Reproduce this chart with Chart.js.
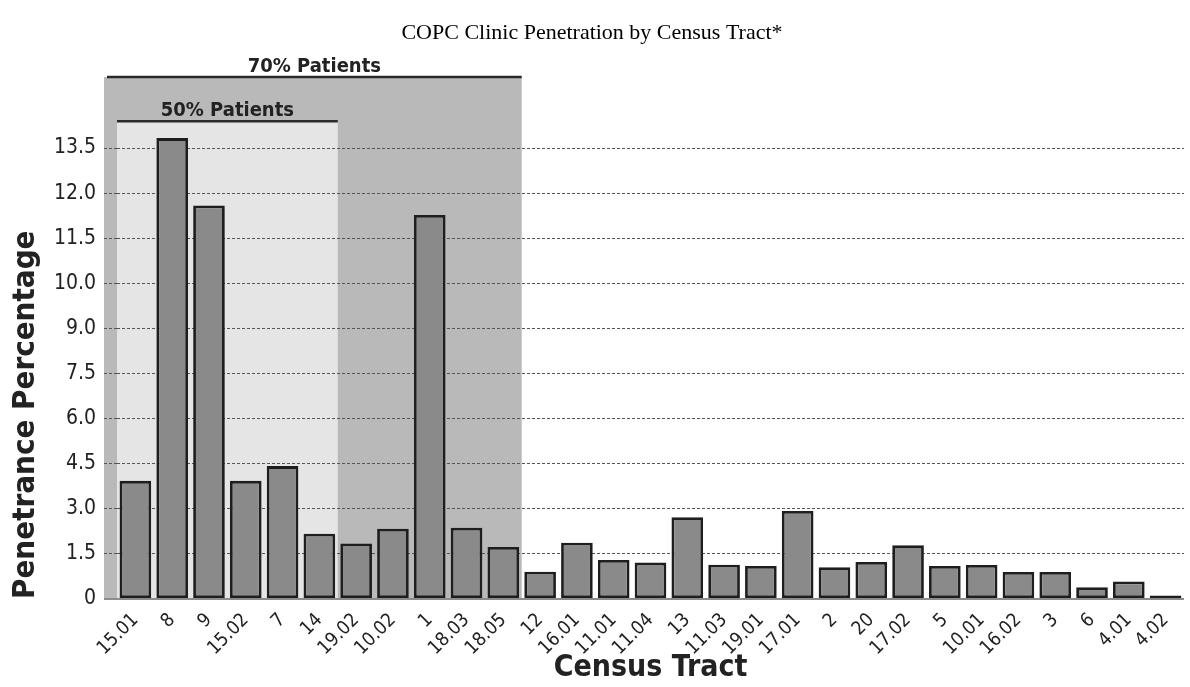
<!DOCTYPE html>
<html>
<head>
<meta charset="utf-8">
<script src="https://cdn.jsdelivr.net/npm/chart.js@4/dist/chart.umd.min.js"></script>
<style>
  html, body { margin: 0; padding: 0; background: #ffffff; }
  #wrap { width: 1190px; height: 687px; }
</style>
</head>
<body>
<div id="wrap"><canvas id="chart" width="1190" height="687"></canvas></div>
<script>
const tracts = ['15.01', '8', '9', '15.02', '7', '14', '19.02', '10.02', '1', '18.03', '18.05', '12', '16.01', '11.01', '11.04', '13', '11.03', '19.01', '17.01', '2', '20', '17.02', '5', '10.01', '16.02', '3', '6', '4.01', '4.02'];
// bar heights in grid units (1.5 per gridline, as the lower labels read)
const penetrance = [3.93, 15.33, 13.09, 3.93, 4.42, 2.17, 1.85, 2.34, 12.77, 2.37, 1.73, 0.91, 1.87, 1.30, 1.21, 2.72, 1.14, 1.10, 2.93, 1.06, 1.23, 1.79, 1.10, 1.13, 0.90, 0.90, 0.39, 0.58, 0.12];
// the y labels as printed on the original (not evenly spaced numbers)
const yTickLabels = ['0', '1.5', '3.0', '4.5', '6.0', '7.5', '9.0', '10.0', '11.5', '12.0', '13.5'];

// patient share brackets: last category index covered, label, bracket height (y units)
const brackets = [
    { label: '70% Patients', lastIndex: 10, top: 17.36, dark: true },
    { label: '50% Patients', lastIndex: 5, top: 15.89, dark: false }
];

const condensed = "'DejaVu Sans Condensed', 'Liberation Sans Narrow', 'Arial Narrow', sans-serif";
const TICK_LEN = 13;

const bracketPlugin = {
    id: 'brackets',
    beforeDraw(chart) {
        const { ctx, chartArea, scales: { x, y } } = chart;
        const pitch = x.getPixelForValue(1) - x.getPixelForValue(0);
        const base = y.getPixelForValue(0);
        ctx.save();
        brackets.forEach(b => {
            const left = b.dark ? chartArea.left - TICK_LEN : x.getPixelForValue(0) - pitch / 2;
            const right = x.getPixelForValue(b.lastIndex) + pitch / 2;
            const top = y.getPixelForValue(b.top);
            ctx.fillStyle = b.dark ? '#b9b9b9' : '#e5e5e5';
            ctx.fillRect(left, top, right - left, base - top);
        });
        ctx.restore();
    },
    afterDraw(chart) {
        const { ctx, chartArea, scales: { x, y } } = chart;
        const pitch = x.getPixelForValue(1) - x.getPixelForValue(0);
        ctx.save();
        brackets.forEach(b => {
            const left = b.dark ? chartArea.left - TICK_LEN + 3 : x.getPixelForValue(0) - pitch / 2;
            const right = x.getPixelForValue(b.lastIndex) + pitch / 2;
            const top = y.getPixelForValue(b.top);
            ctx.strokeStyle = '#2a2a2a';
            ctx.lineWidth = 2.5;
            ctx.beginPath();
            ctx.moveTo(left, top);
            ctx.lineTo(right, top);
            ctx.stroke();
            ctx.fillStyle = '#222';
            ctx.font = `bold 20px ${condensed}`;
            ctx.textAlign = 'center';
            ctx.textBaseline = 'alphabetic';
            ctx.fillText(b.label, (left + right) / 2, top - 5);
        });
        ctx.restore();
    }
};

new Chart(document.getElementById('chart'), {
    type: 'bar',
    data: {
        labels: tracts,
        datasets: [{
            data: penetrance,
            backgroundColor: '#8a8a8a',
            borderColor: '#1e1e1e',
            borderWidth: 2.8,
            borderSkipped: false,
            barPercentage: 0.86,
            categoryPercentage: 1,
            clip: false
        }]
    },
    options: {
        responsive: false,
        animation: false,
        layout: { padding: { left: 0, right: 6, top: 0, bottom: 0 } },
        plugins: {
            legend: { display: false },
            tooltip: { enabled: false },
            title: {
                display: true,
                text: 'COPC Clinic Penetration by Census Tract*',
                color: '#000',
                font: { family: "'Liberation Serif', 'Times New Roman', serif", size: 22, weight: 'normal', lineHeight: 1.2 },
                padding: { top: 20, bottom: 101.6 }
            }
        },
        scales: {
            x: {
                grid: { display: false },
                border: { display: false },
                ticks: {
                    color: '#222',
                    font: { family: condensed, size: 19 },
                    minRotation: 45,
                    maxRotation: 45,
                    padding: 2,
                    autoSkip: false
                },
                title: {
                    display: true,
                    text: 'Census Tract',
                    color: '#222',
                    font: { family: condensed, size: 30, weight: 'bold', lineHeight: 1.2 },
                    padding: { top: 0, bottom: 1 }
                },
                afterFit(scale) { scale.height = 88; }
            },
            y: {
                min: 0,
                max: 15,
                ticks: {
                    stepSize: 1.5,
                    color: '#222',
                    font: { family: condensed, size: 21 },
                    padding: 8,
                    callback: (value, index) => yTickLabels[index]
                },
                grid: {
                    color: ctx => ctx.index === 0 ? '#8c8c8c' : '#555',
                    lineWidth: ctx => ctx.index === 0 ? 2 : 1,
                    tickLength: TICK_LEN,
                    tickColor: ctx => ctx.index === 0 ? '#8c8c8c' : '#555',
                    tickBorderDash: ctx => ctx.index === 0 ? [] : [3, 2]
                },
                border: {
                    display: false,
                    dash: ctx => ctx.index === 0 ? [] : [3, 2]
                },
                title: {
                    display: true,
                    text: 'Penetrance Percentage',
                    align: 'start',
                    color: '#222',
                    font: { family: condensed, size: 31, weight: 'bold', lineHeight: 1.2 },
                    padding: { top: 7, bottom: 0 }
                },
                afterFit(scale) { scale.width = 117; }
            }
        }
    },
    plugins: [bracketPlugin]
});
</script>
</body>
</html>
